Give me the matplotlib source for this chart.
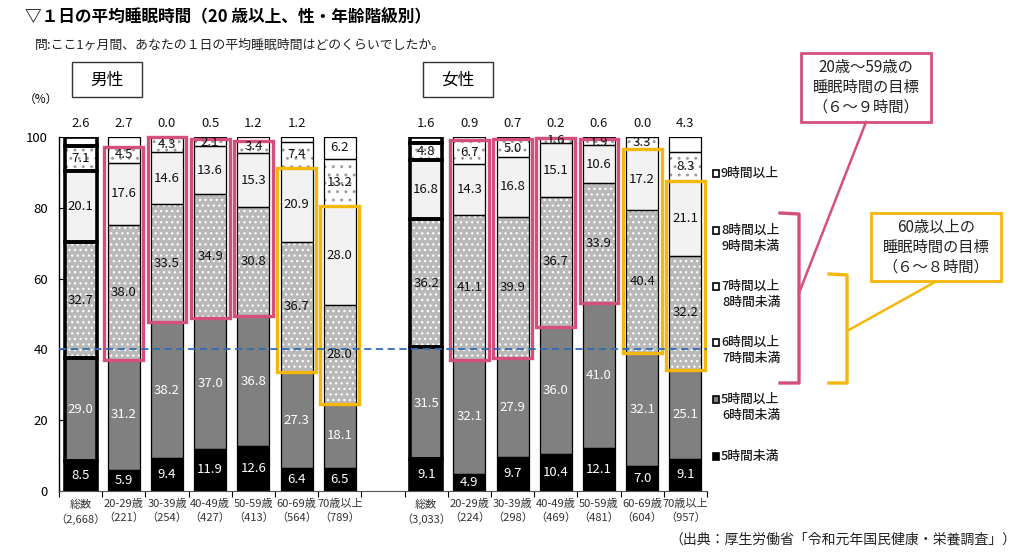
import matplotlib
matplotlib.use('Agg')
import matplotlib.pyplot as plt
import numpy as np
from matplotlib.patches import Rectangle

plt.rcParams['font.family'] = ['Noto Sans CJK JP', 'DejaVu Sans']
plt.rcParams['hatch.linewidth'] = 0.9

# --- datos -----------------------------------------------------------
edades = ['総数', '20-29歳', '30-39歳', '40-49歳', '50-59歳', '60-69歳', '70歳以上']
n_hombres = ['2,668', '221', '254', '427', '413', '564', '789']
n_mujeres = ['3,033', '224', '298', '469', '481', '604', '957']

categorias = ['5時間未満', '5時間以上\n6時間未満', '6時間以上\n7時間未満',
              '7時間以上\n8時間未満', '8時間以上\n9時間未満', '9時間以上']

# 男性 (de abajo hacia arriba)
m_lt5 = [8.5, 5.9, 9.4, 11.9, 12.6, 6.4, 6.5]
m_5_6 = [29.0, 31.2, 38.2, 37.0, 36.8, 27.3, 18.1]
m_6_7 = [32.7, 38.0, 33.5, 34.9, 30.8, 36.7, 28.0]
m_7_8 = [20.1, 17.6, 14.6, 13.6, 15.3, 20.9, 28.0]
m_8_9 = [7.1, 4.5, 4.3, 2.1, 3.4, 7.4, 13.2]
m_9 = [2.6, 2.7, 0.0, 0.5, 1.2, 1.2, 6.2]

# 女性
f_lt5 = [9.1, 4.9, 9.7, 10.4, 12.1, 7.0, 9.1]
f_5_6 = [31.5, 32.1, 27.9, 36.0, 41.0, 32.1, 25.1]
f_6_7 = [36.2, 41.1, 39.9, 36.7, 33.9, 40.4, 32.2]
f_7_8 = [16.8, 14.3, 16.8, 15.1, 10.6, 17.2, 21.1]
f_8_9 = [4.8, 6.7, 5.0, 1.6, 1.9, 3.3, 8.3]
f_9 = [1.6, 0.9, 0.7, 0.2, 0.6, 0.0, 4.3]

hombres = np.array([m_lt5, m_5_6, m_6_7, m_7_8, m_8_9, m_9])
mujeres = np.array([f_lt5, f_5_6, f_6_7, f_7_8, f_8_9, f_9])

# estilos por categoria: relleno, hatch, color del hatch, color del texto
rellenos = ['#000000', '#808080', '#b9b9b9', '#f2f2f2', '#ffffff', '#ffffff']
hatches = [None, None, '...', None, '..', None]
color_hatch = ['#000000', '#808080', '#ffffff', '#f2f2f2', '#9a9a9a', '#ffffff']
color_texto = ['white', 'white', '#111111', '#111111', '#111111', '#111111']

rosa = '#d4507a'
amarillo = '#f5b70a'
azul = '#2f6db5'

# --- figura ----------------------------------------------------------
fig = plt.figure(figsize=(10.15, 5.54), dpi=100)
ax = fig.add_axes([59 / 1015, 1 - 491 / 554, (707 - 59) / 1015, (491 - 137) / 554])

ancho = 0.74
x_h = np.arange(7)
x_m = np.arange(7) + 8

for datos, xs in [(hombres, x_h), (mujeres, x_m)]:
    base = np.zeros(7)
    grosor = [2.6] + [0.9] * 6
    for k in range(6):
        vals = datos[k]
        ax.bar(xs, vals, ancho, bottom=base, color=rellenos[k], edgecolor=color_hatch[k],
               linewidth=0, hatch=hatches[k], zorder=2)
        ax.bar(xs, vals, ancho, bottom=base, fill=False, edgecolor='black',
               linewidth=grosor, zorder=2.5)
        for i in range(7):
            v = vals[i]
            if k == 5 and v < 5:
                ax.text(xs[i], 103.8, f'{v:.1f}', ha='center', va='center', fontsize=9.5,
                        color='#111111', clip_on=False, zorder=5)
            else:
                ax.text(xs[i], base[i] + v / 2, f'{v:.1f}', ha='center', va='center',
                        fontsize=9.5, color=color_texto[k], zorder=5)
        base = base + vals

    # recuadros de objetivo
    acum = np.cumsum(datos, axis=0)
    for i in range(1, 7):
        if i <= 4:
            y0, y1, c = acum[1, i], acum[4, i], rosa
        else:
            y0, y1, c = acum[1, i], acum[3, i], amarillo
        ax.add_patch(Rectangle((xs[i] - 0.45, y0), 0.9, y1 - y0, fill=False,
                               edgecolor=c, linewidth=2.4, zorder=3, clip_on=False))

ax.axhline(40, color=azul, linestyle=(0, (4, 2.5)), linewidth=1.3, zorder=4)

ax.set_xlim(-0.5, 14.5)
ax.set_ylim(0, 100)
ax.set_yticks([0, 20, 40, 60, 80, 100])
ax.tick_params(axis='y', labelsize=9.5, length=3, direction='in', pad=8)
ax.set_xticks(np.arange(-0.5, 15, 1), minor=True)
ax.set_xticks(np.concatenate([x_h, x_m]))
etiquetas = [f'{e}\n（{n}）' for e, n in zip(edades, n_hombres)] + \
            [f'{e}\n（{n}）' for e, n in zip(edades, n_mujeres)]
ax.set_xticklabels(etiquetas, fontsize=8, color='#333333', linespacing=1.4)
ax.tick_params(axis='x', which='major', length=0, pad=6)
ax.tick_params(axis='x', which='minor', length=4, width=0.8)
for s in ['top', 'right']:
    ax.spines[s].set_visible(False)
ax.spines['left'].set_linewidth(1.0)
ax.spines['bottom'].set_linewidth(0.8)
ax.spines['bottom'].set_color('#555555')

# --- capa de anotaciones (coordenadas en pixeles) ---------------------
ov = fig.add_axes([0, 0, 1, 1])
ov.set_xlim(0, 1015)
ov.set_ylim(554, 0)
ov.axis('off')

ov.text(25, 17, '▽１日の平均睡眠時間（20 歳以上、性・年齢階級別）', fontsize=12,
        fontweight='bold', va='center', ha='left')
ov.text(35, 45, '問:ここ1ヶ月間、あなたの１日の平均睡眠時間はどのくらいでしたか。',
        fontsize=9.3, va='center', ha='left', color='#222222')
ov.text(24, 99, '（%）', fontsize=8.5, va='center', ha='left')

for x0, txt in [(72, '男性'), (423, '女性')]:
    ov.add_patch(Rectangle((x0, 62), 70, 35, fill=False, edgecolor='#333333', linewidth=1))
    ov.text(x0 + 35, 80, txt, fontsize=12, ha='center', va='center')

# leyenda
y_leyenda = [456, 399, 342, 286, 230, 173]
for k in range(6):
    y = y_leyenda[k]
    ov.add_patch(Rectangle((713, y - 3.5), 6.5, 7, facecolor=rellenos[k] if k < 2 else '#ffffff',
                           edgecolor='black', linewidth=1.2))
    lineas = categorias[k].split('\n')
    ov.text(721, y, lineas[0], fontsize=9.2, va='center', ha='left', color='#1a1a1a',
            fontweight='medium')
    if len(lineas) > 1:
        ov.text(722, y + 16, lineas[1], fontsize=9.2, va='center', ha='left', color='#1a1a1a',
                fontweight='medium')

# corchete rosa y recuadro
ov.plot([780, 799, 799, 780], [213, 214, 383, 383], color=rosa, linewidth=2.4,
        solid_joinstyle='round')
ov.plot([799, 866], [293, 122], color=rosa, linewidth=1.8)
ov.add_patch(Rectangle((801, 53), 130, 69, facecolor='white', edgecolor=rosa, linewidth=2))
ov.text(866, 87.5, '20歳～59歳の\n睡眠時間の目標\n（６～９時間）', fontsize=11,
        ha='center', va='center', linespacing=1.2, color='#222222')

# corchete amarillo y recuadro
ov.plot([829, 847, 847, 829], [274, 275, 383, 383], color=amarillo, linewidth=2.4,
        solid_joinstyle='round')
ov.plot([847, 935], [331, 282], color=amarillo, linewidth=1.8)
ov.add_patch(Rectangle((871, 213), 130, 68, facecolor='white', edgecolor=amarillo, linewidth=2))
ov.text(936, 247, '60歳以上の\n睡眠時間の目標\n（６～８時間）', fontsize=11,
        ha='center', va='center', linespacing=1.2, color='#222222')

ov.text(1016, 540, '（出典：厚生労働省「令和元年国民健康・栄養調査」）', fontsize=10,
        ha='right', va='center', color='#222222')

fig.savefig('out.png', dpi=100)
